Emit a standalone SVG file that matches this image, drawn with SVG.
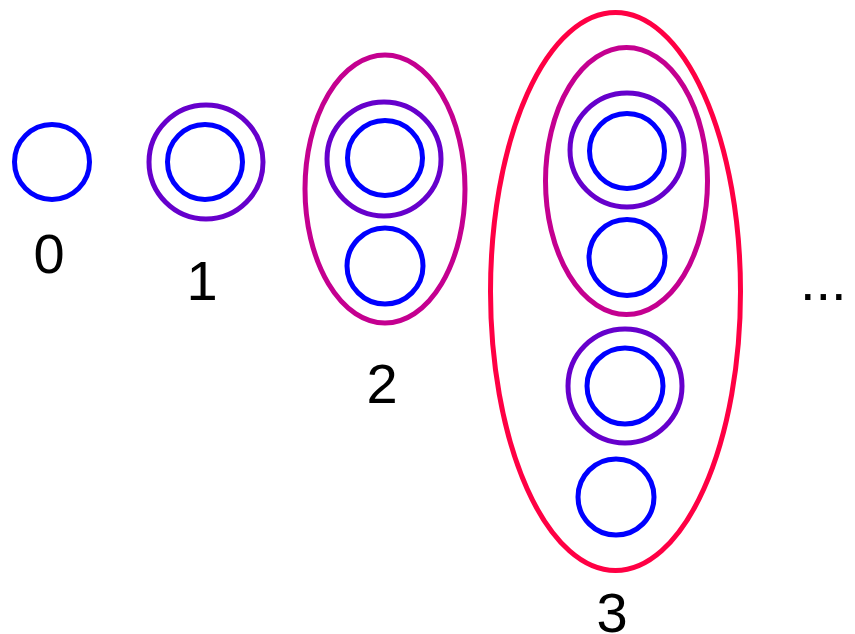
<svg xmlns="http://www.w3.org/2000/svg" width="855" height="634" viewBox="0 0 855 634">
<style>
.s{fill:none;stroke-width:5}
.b{stroke:#0000FF}
.p{stroke:#6600CC}
.m{stroke:#C40090}
.r{stroke:#FF0044}
text{font-family:"Liberation Sans",Arial,sans-serif;font-size:56px;fill:#000}
</style>
<rect width="855" height="634" fill="#fff"/>
<g id="ord0">
<circle class="s b" cx="52" cy="162" r="37.5"/>
<text x="49" y="273" text-anchor="middle">0</text>
</g>
<g id="ord1">
<circle class="s p" cx="206" cy="162" r="57"/>
<circle class="s b" cx="205" cy="162" r="37.5"/>
<text x="202" y="300" text-anchor="middle">1</text>
</g>
<g id="ord2">
<ellipse class="s m" cx="385" cy="189" rx="80" ry="134"/>
<circle class="s p" cx="384" cy="159" r="57"/>
<circle class="s b" cx="385" cy="158" r="37.5"/>
<circle class="s b" cx="385" cy="266" r="38"/>
<text x="382" y="403" text-anchor="middle">2</text>
</g>
<g id="ord3">
<ellipse class="s r" cx="615.5" cy="291.5" rx="125" ry="279"/>
<ellipse class="s m" cx="626.5" cy="181" rx="81" ry="133.5"/>
<circle class="s p" cx="627" cy="150" r="57"/>
<circle class="s b" cx="627" cy="151" r="37.5"/>
<circle class="s b" cx="627" cy="257.5" r="38"/>
<circle class="s p" cx="625" cy="386" r="57"/>
<circle class="s b" cx="625" cy="386" r="38"/>
<circle class="s b" cx="616" cy="497" r="38"/>
<text x="612" y="632" text-anchor="middle">3</text>
</g>
<g id="ellipsis">
<text x="800" y="300">...</text>
</g>
<g id="connectors"/>
</svg>
